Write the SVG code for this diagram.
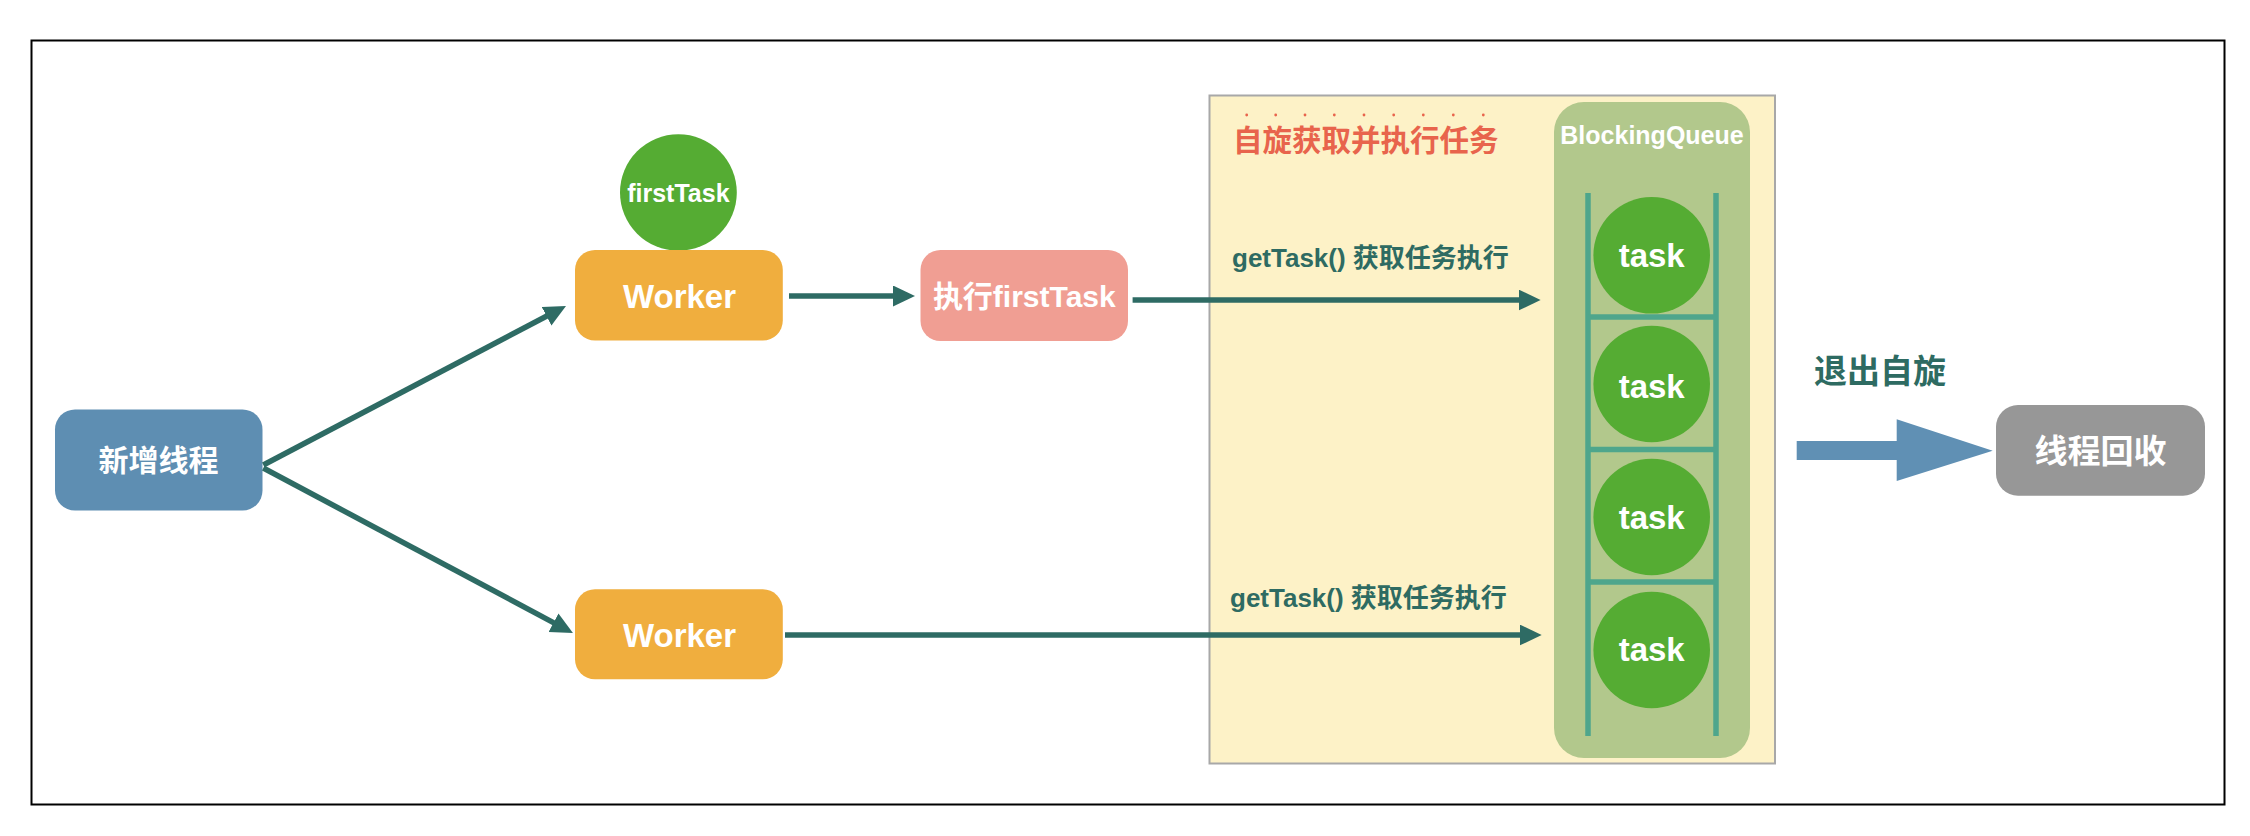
<svg xmlns="http://www.w3.org/2000/svg" width="2250" height="836" viewBox="0 0 2250 836">
  <defs>
    <style>
      .lbl { font-family: "Liberation Sans", "Noto Sans CJK SC", sans-serif; font-weight: bold; }
      .w { fill: #FFFFFF; }
      .teal { fill: #2E6B62; }
      .conn { stroke: #2E6B64; stroke-width: 5.5; fill: none; }
      .task { fill: #55AC33; }
      .rung { stroke: #4EA68C; stroke-width: 5.5; }
      .dot { fill: #E8644C; }
    </style>
    <marker id="ah" markerUnits="userSpaceOnUse" markerWidth="24" markerHeight="22" refX="2" refY="10.5" orient="auto">
      <path d="M0,0 L22,10.5 L0,21 Z" fill="#2E6B64"/>
    </marker>
  </defs>

  <rect x="0" y="0" width="2250" height="836" fill="#FFFFFF"/>
  <rect id="frame" x="31.5" y="40.5" width="2193" height="764" fill="none" stroke="#000000" stroke-width="2"/>

  <g id="spin-panel">
    <rect x="1209.5" y="95.5" width="565.5" height="668" fill="#FDF2C7" stroke="#A8A8A8" stroke-width="2"/>
    <g id="emphasis-dots">
      <circle class="dot" cx="1246.7" cy="115" r="1.4"/>
      <circle class="dot" cx="1275.7" cy="115" r="1.4"/>
      <circle class="dot" cx="1305" cy="115" r="1.4"/>
      <circle class="dot" cx="1334.3" cy="115" r="1.4"/>
      <circle class="dot" cx="1364" cy="115" r="1.4"/>
      <circle class="dot" cx="1393.7" cy="115" r="1.4"/>
      <circle class="dot" cx="1423.3" cy="115" r="1.4"/>
      <circle class="dot" cx="1453.3" cy="115" r="1.4"/>
      <circle class="dot" cx="1483.3" cy="115" r="1.4"/>
    </g>
    <text class="lbl" x="1233" y="151" font-size="29.5" fill="#E8644C">自旋获取并执行任务</text>
  </g>

  <g id="blocking-queue">
    <rect x="1554" y="102" width="196" height="656" rx="30" ry="30" fill="#B2C88C"/>
    <text class="lbl w" x="1652" y="144" font-size="25" text-anchor="middle">BlockingQueue</text>
    <line class="rung" x1="1588" y1="193" x2="1588" y2="736"/>
    <line class="rung" x1="1716" y1="193" x2="1716" y2="736"/>
    <line class="rung" x1="1588" y1="317" x2="1716" y2="317"/>
    <line class="rung" x1="1588" y1="449.5" x2="1716" y2="449.5"/>
    <line class="rung" x1="1588" y1="582" x2="1716" y2="582"/>
  </g>

  <g id="task-1">
    <circle class="task" cx="1651.7" cy="255.3" r="58.3"/>
    <text class="lbl w" x="1651.7" y="267" font-size="33" text-anchor="middle">task</text>
  </g>
  <g id="task-2">
    <circle class="task" cx="1651.7" cy="384" r="58.3"/>
    <text class="lbl w" x="1651.7" y="398" font-size="33" text-anchor="middle">task</text>
  </g>
  <g id="task-3">
    <circle class="task" cx="1651.7" cy="517" r="58.3"/>
    <text class="lbl w" x="1651.7" y="528.5" font-size="33" text-anchor="middle">task</text>
  </g>
  <g id="task-4">
    <circle class="task" cx="1651.7" cy="650" r="58.3"/>
    <text class="lbl w" x="1651.7" y="660.5" font-size="33" text-anchor="middle">task</text>
  </g>

  <g id="new-thread">
    <rect x="55" y="409.5" width="207.5" height="101" rx="20" ry="20" fill="#5E8EB2"/>
    <text class="lbl w" x="158.5" y="471" font-size="30" text-anchor="middle">新增线程</text>
  </g>

  <g id="first-task">
    <ellipse class="task" cx="678.4" cy="192.5" rx="58.4" ry="58.2"/>
    <text class="lbl w" x="678.4" y="201.7" font-size="25" text-anchor="middle">firstTask</text>
  </g>

  <g id="worker-1">
    <rect x="575" y="250" width="207.8" height="90.5" rx="20" ry="20" fill="#F0AE3E"/>
    <text class="lbl w" x="679.5" y="308.3" font-size="33" text-anchor="middle">Worker</text>
  </g>

  <g id="worker-2">
    <rect x="575" y="589.3" width="207.8" height="90" rx="20" ry="20" fill="#F0AE3E"/>
    <text class="lbl w" x="679.5" y="647" font-size="33" text-anchor="middle">Worker</text>
  </g>

  <g id="run-first-task">
    <rect x="920.5" y="250" width="207.5" height="91" rx="20" ry="20" fill="#F09E93"/>
    <text class="lbl w" x="1024.3" y="307.3" font-size="30" text-anchor="middle">执行firstTask</text>
  </g>

  <g id="recycle">
    <rect x="1996" y="405" width="209" height="90.7" rx="22" ry="22" fill="#979797"/>
    <text class="lbl w" x="2100.5" y="462.5" font-size="33" text-anchor="middle">线程回收</text>
  </g>

  <g id="connectors">
    <line class="conn" x1="263.3" y1="465" x2="548.3" y2="315.3" marker-end="url(#ah)"/>
    <line class="conn" x1="263.3" y1="468" x2="555.3" y2="623.6" marker-end="url(#ah)"/>
    <line class="conn" x1="789" y1="296" x2="895" y2="296" marker-end="url(#ah)"/>
    <line class="conn" x1="1132.6" y1="300" x2="1520.6" y2="300" marker-end="url(#ah)"/>
    <line class="conn" x1="785" y1="635" x2="1521.7" y2="635" marker-end="url(#ah)"/>
    <polygon id="exit-arrow" points="1796.7,441 1896.7,441 1896.7,419.3 1992.7,450.7 1896.7,481 1896.7,460 1796.7,460" fill="#6090B4"/>
  </g>

  <g id="labels">
    <text class="lbl teal" x="1232" y="267" font-size="26">getTask() 获取任务执行</text>
    <text class="lbl teal" x="1230" y="607" font-size="26">getTask() 获取任务执行</text>
    <text class="lbl teal" x="1814" y="383" font-size="33">退出自旋</text>
  </g>
</svg>
